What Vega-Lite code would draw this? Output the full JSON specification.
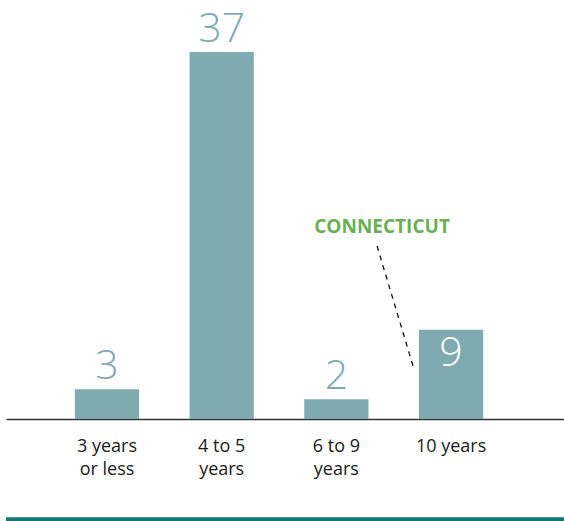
{
  "$schema": "https://vega.github.io/schema/vega-lite/v6.json",
  "width": 558,
  "height": 419,
  "autosize": "none",
  "padding": {"left": 6, "top": 0, "right": 0, "bottom": 102},
  "background": "white",
  "config": {"view": {"stroke": null}, "font": "Open Sans"},
  "datasets": {
    "bars": [
      {"duration": "3 years\nor less", "count": 3},
      {"duration": "4 to 5\nyears", "count": 37},
      {"duration": "6 to 9\nyears", "count": 2},
      {"duration": "10 years", "count": 9}
    ],
    "note": [{"duration": "10 years", "label": "CONNECTICUT", "labelY": 18.75, "lineTop": 17.44, "lineBottom": 5.34}]
  },
  "layer": [
    {
      "data": {"name": "bars"},
      "mark": {"type": "bar", "color": "#7eaab0"},
      "encoding": {
        "x": {
          "field": "duration", "type": "nominal", "sort": null,
          "scale": {"domain": ["3 years\nor less", "4 to 5\nyears", "6 to 9\nyears", "10 years"], "paddingInner": 0.44, "paddingOuter": 0.6525, "align": 0.46},
          "axis": {
            "title": null, "labelAngle": 0, "ticks": false, "domainColor": "#333333", "domainWidth": 1.5,
            "labelExpr": "split(datum.value, '\\n')", "labelFontSize": 18, "labelColor": "#1a1a1a",
            "labelLineHeight": 23, "labelPadding": 18, "labelBaseline": "top", "labelFont": "Open Sans"
          }
        },
        "y": {"field": "count", "type": "quantitative", "scale": {"domain": [0, 42.24], "nice": false, "zero": true}, "axis": null}
      }
    },
    {
      "data": {"name": "bars"},
      "transform": [{"filter": "datum.duration != '10 years'"}],
      "mark": {"type": "text", "fontSize": 41, "fontWeight": 300, "color": "#7eaab0", "baseline": "alphabetic", "dy": -10},
      "encoding": {
        "x": {"field": "duration", "type": "nominal", "sort": null},
        "y": {"field": "count", "type": "quantitative"},
        "text": {"field": "count", "type": "quantitative"}
      }
    },
    {
      "data": {"name": "bars"},
      "transform": [{"filter": "datum.duration == '10 years'"}],
      "mark": {"type": "text", "fontSize": 41, "fontWeight": 300, "color": "white", "baseline": "alphabetic", "dy": 36},
      "encoding": {
        "x": {"field": "duration", "type": "nominal", "sort": null},
        "y": {"field": "count", "type": "quantitative"},
        "text": {"field": "count", "type": "quantitative"}
      }
    },
    {
      "data": {"name": "note"},
      "mark": {"type": "text", "fontSize": 19, "fontWeight": "bold", "color": "#6aaf54", "baseline": "alphabetic", "align": "center", "dx": -69},
      "encoding": {
        "x": {"field": "duration", "type": "nominal", "sort": null},
        "y": {"field": "labelY", "type": "quantitative"},
        "text": {"field": "label"}
      }
    },
    {
      "data": {"name": "note"},
      "mark": {"type": "rule", "color": "#111111", "strokeWidth": 1.3, "strokeDash": [5, 5], "xOffset": -74, "x2Offset": -38},
      "encoding": {
        "x": {"field": "duration", "type": "nominal", "sort": null},
        "x2": {"field": "duration"},
        "y": {"field": "lineTop", "type": "quantitative"},
        "y2": {"field": "lineBottom"}
      }
    },
    {
      "data": {"values": [{}]},
      "mark": {"type": "rule", "color": "#0f7577", "strokeWidth": 4, "xOffset": 10.5},
      "encoding": {"y": {"datum": -10.1, "type": "quantitative"}}
    }
  ]
}
